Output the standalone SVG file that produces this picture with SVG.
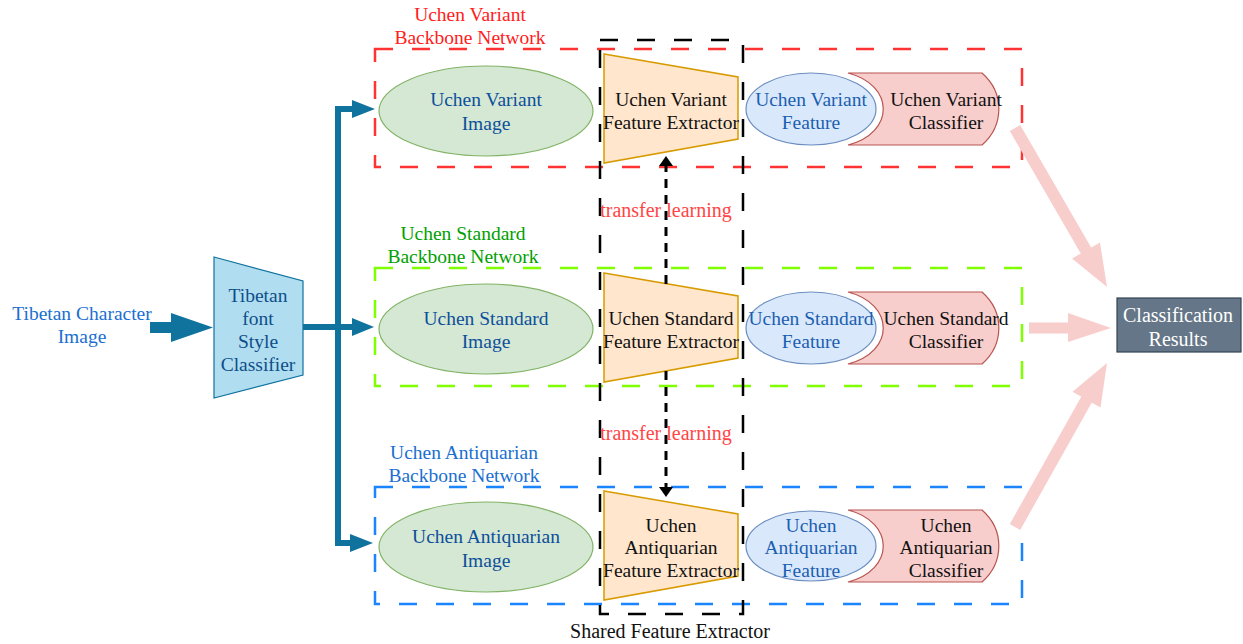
<svg xmlns="http://www.w3.org/2000/svg" width="1243" height="644" viewBox="0 0 1243 644">
  <style>
    text { font-family: "Liberation Serif", "Times New Roman", serif; font-size: 19.5px; text-anchor: middle; dominant-baseline: central; }
    .big { font-size: 20px; }
    .box { fill: none; stroke-width: 2.5; stroke-dasharray: 18 19; }
    .img { fill: #d5e8d4; stroke: #82b366; stroke-width: 1.2; }
    .ext { fill: #ffe6cc; stroke: #d79b00; stroke-width: 1.5; }
    .feat { fill: #dae8fc; stroke: #6c8ebf; stroke-width: 1.2; }
    .cls { fill: #f8cecc; stroke: #b85450; stroke-width: 1.2; }
    .bus { fill: none; stroke: #10739e; stroke-width: 6; }
    .head { fill: #10739e; }
    .res { fill: #f8cecc; }
    .tl { fill: none; stroke: #000; stroke-width: 3; stroke-dasharray: 9 7; }
    .t-img { fill: #0d4f9a; }
    .t-feat { fill: #1a5fb0; }
    .t-dark { fill: #111; }
  </style>
  <defs>
    <marker id="tip" viewBox="0 0 10 14" refX="10" refY="7" markerWidth="10" markerHeight="14" markerUnits="userSpaceOnUse" orient="auto">
      <path d="M0,0 L10,7 L0,14 Z" fill="#000"/>
    </marker>
  </defs>

  <!-- backbone network frames -->
  <g id="frame-variant">
    <rect class="box" x="375" y="49" width="647" height="118" stroke="#ff3333"/>
    <text x="470" y="14" fill="#ff2020">Uchen Variant</text>
    <text x="470" y="37" fill="#ff2020">Backbone Network</text>
  </g>
  <g id="frame-standard">
    <rect class="box" x="375" y="268" width="647" height="118" stroke="#80ff00"/>
    <text x="463" y="233" fill="#00a000">Uchen Standard</text>
    <text x="463" y="256" fill="#00a000">Backbone Network</text>
  </g>
  <g id="frame-antiquarian">
    <rect class="box" x="375" y="487" width="647" height="117" stroke="#1a85ff"/>
    <text x="464" y="452" fill="#1a6fd0">Uchen Antiquarian</text>
    <text x="464" y="475" fill="#1a6fd0">Backbone Network</text>
  </g>
  <g id="frame-shared">
    <rect class="box" x="600" y="40" width="143" height="574" stroke="#000" stroke-width="3"/>
    <text x="670" y="631" class="t-dark big">Shared Feature Extractor</text>
  </g>

  <!-- input -->
  <g id="input-label">
    <text x="82" y="313" fill="#1a6fd0">Tibetan Character</text>
    <text x="82" y="336" fill="#1a6fd0">Image</text>
  </g>
  <g id="style-classifier">
    <polygon points="214,257 303,281 303,375 214,398" fill="#b1ddf0" stroke="#10739e" stroke-width="1.2"/>
    <text x="258" y="295" fill="#0d4f8a">Tibetan</text>
    <text x="258" y="318" fill="#0d4f8a">font</text>
    <text x="258" y="341" fill="#0d4f8a">Style</text>
    <text x="258" y="364" fill="#0d4f8a">Classifier</text>
  </g>

  <!-- variant row -->
  <g id="variant-image">
    <ellipse class="img" cx="486" cy="111" rx="107" ry="45"/>
    <text x="486" y="99" class="t-img">Uchen Variant</text>
    <text x="486" y="123" class="t-img">Image</text>
  </g>
  <g id="variant-extractor">
    <polygon class="ext" points="604,54 738,77 738,139 604,163"/>
    <text x="671" y="99" class="t-dark">Uchen Variant</text>
    <text x="671" y="122" class="t-dark">Feature Extractor</text>
  </g>
  <g id="variant-feature">
    <ellipse class="feat" cx="811" cy="109" rx="65" ry="36"/>
    <text x="811" y="99" class="t-feat">Uchen Variant</text>
    <text x="811" y="122" class="t-feat">Feature</text>
  </g>
  <g id="variant-classifier">
    <path class="cls" d="M848,73 L982,73 A55,50 0 0 1 982,145 L848,145 C895,133 895,85 848,73 Z"/>
    <text x="946" y="99" class="t-dark">Uchen Variant</text>
    <text x="946" y="122" class="t-dark">Classifier</text>
  </g>

  <!-- standard row -->
  <g id="standard-image">
    <ellipse class="img" cx="486" cy="329" rx="107" ry="45"/>
    <text x="486" y="318" class="t-img">Uchen Standard</text>
    <text x="486" y="341" class="t-img">Image</text>
  </g>
  <g id="standard-extractor">
    <polygon class="ext" points="604,273 738,296 738,358 604,382"/>
    <text x="671" y="318" class="t-dark">Uchen Standard</text>
    <text x="671" y="341" class="t-dark">Feature Extractor</text>
  </g>
  <g id="standard-feature">
    <ellipse class="feat" cx="811" cy="328" rx="65" ry="36"/>
    <text x="811" y="318" class="t-feat">Uchen Standard</text>
    <text x="811" y="341" class="t-feat">Feature</text>
  </g>
  <g id="standard-classifier">
    <path class="cls" d="M848,292 L982,292 A55,50 0 0 1 982,364 L848,364 C895,352 895,304 848,292 Z"/>
    <text x="946" y="318" class="t-dark">Uchen Standard</text>
    <text x="946" y="341" class="t-dark">Classifier</text>
  </g>

  <!-- antiquarian row -->
  <g id="antiquarian-image">
    <ellipse class="img" cx="486" cy="547" rx="107" ry="45"/>
    <text x="486" y="536" class="t-img">Uchen Antiquarian</text>
    <text x="486" y="560" class="t-img">Image</text>
  </g>
  <g id="antiquarian-extractor">
    <polygon class="ext" points="604,491 738,514 738,576 604,600"/>
    <text x="671" y="525" class="t-dark">Uchen</text>
    <text x="671" y="547" class="t-dark">Antiquarian</text>
    <text x="671" y="570" class="t-dark">Feature Extractor</text>
  </g>
  <g id="antiquarian-feature">
    <ellipse class="feat" cx="811" cy="546" rx="65" ry="35"/>
    <text x="811" y="525" class="t-feat">Uchen</text>
    <text x="811" y="547" class="t-feat">Antiquarian</text>
    <text x="811" y="570" class="t-feat">Feature</text>
  </g>
  <g id="antiquarian-classifier">
    <path class="cls" d="M848,510 L982,510 A55,50 0 0 1 982,582 L848,582 C895,570 895,522 848,510 Z"/>
    <text x="946" y="525" class="t-dark">Uchen</text>
    <text x="946" y="547" class="t-dark">Antiquarian</text>
    <text x="946" y="570" class="t-dark">Classifier</text>
  </g>

  <!-- output -->
  <g id="results">
    <rect x="1117" y="298" width="124" height="54" fill="#647687" stroke="#314354" stroke-width="1.2"/>
    <text x="1178" y="315" fill="#fff" class="big">Classification</text>
    <text x="1178" y="339" fill="#fff" class="big">Results</text>
  </g>

  <!-- connectors -->
  <g id="connectors">
    <polygon class="head" points="150,322 171,322 171,313 213,327.5 171,342 171,333 150,333"/>
    <path class="bus" d="M303,327 H356 M338,106 V546 M335,109 H356 M335,543 H354"/>
    <polygon class="head" points="352,100 375,109 352,118"/>
    <polygon class="head" points="352,318 374,327 352,336"/>
    <polygon class="head" points="350,534 373,543 350,552"/>

    <line class="tl" x1="666" y1="284" x2="666" y2="156" marker-end="url(#tip)"/>
    <text x="666" y="210" fill="#ff4545" class="big">transfer learning</text>
    <line class="tl" x1="666" y1="371" x2="666" y2="497" marker-end="url(#tip)"/>
    <text x="666" y="433" fill="#ff4545" class="big">transfer learning</text>

    <line x1="1015" y1="128" x2="1088" y2="254" stroke="#f8cecc" stroke-width="12"/>
    <polygon class="res" points="1072,258.6 1107,287 1100,242.6"/>
    <line x1="1029" y1="328" x2="1070" y2="328" stroke="#f8cecc" stroke-width="11"/>
    <polygon class="res" points="1068,313 1111,328 1068,342"/>
    <line x1="1015" y1="527" x2="1088" y2="397" stroke="#f8cecc" stroke-width="12"/>
    <polygon class="res" points="1100.5,407.4 1107,363 1072.5,391.8"/>
  </g>
</svg>
